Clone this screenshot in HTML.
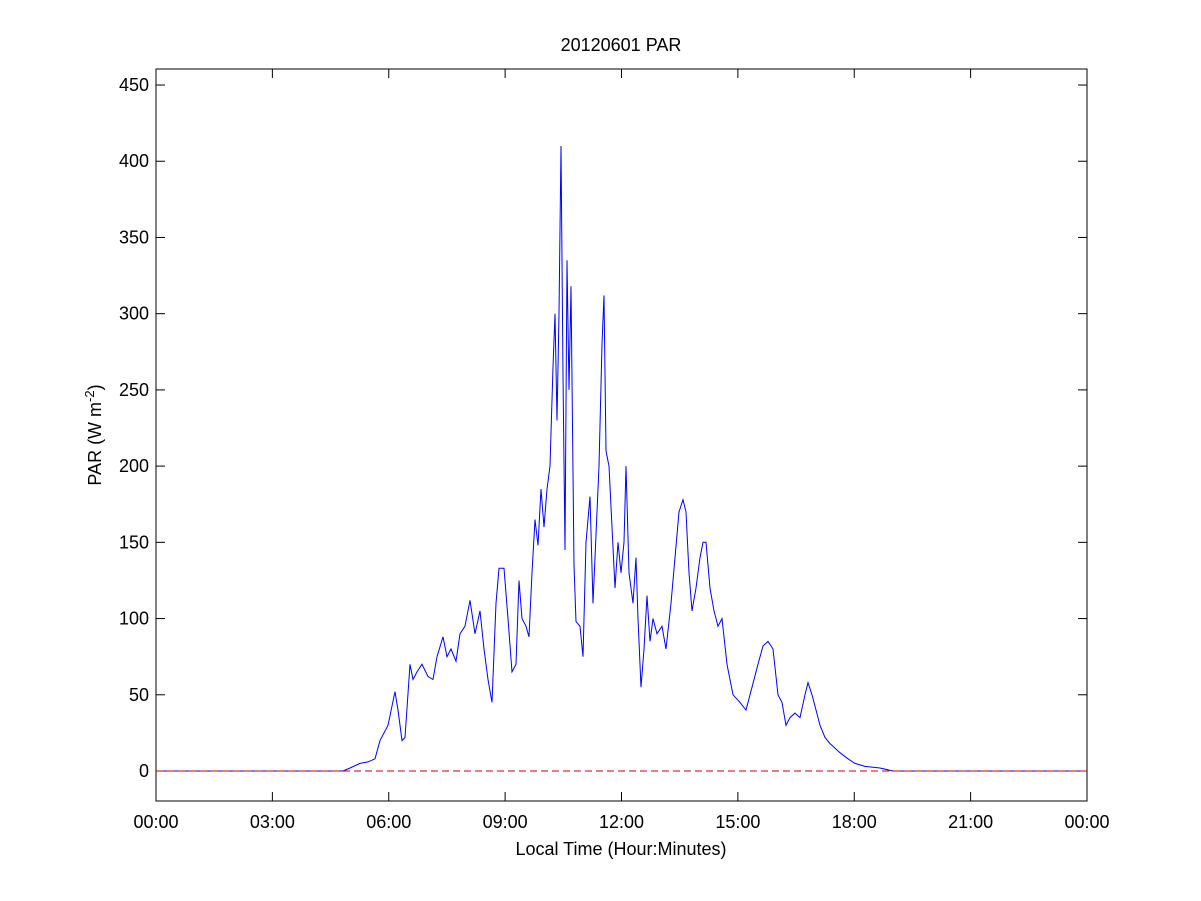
<!DOCTYPE html>
<html><head><style>body{margin:0;background:#fff}svg{display:block}text{font-family:"Liberation Sans",sans-serif;fill:#000}</style></head>
<body>
<svg id="s" width="1201" height="901" viewBox="0 0 1201 901">
<rect x="0" y="0" width="1201" height="901" fill="#fff"/>
<rect x="156" y="69" width="931" height="732" fill="#fff" stroke="#000" stroke-width="1"/>
<g id="ticks" stroke="#000" stroke-width="1"></g>
<g id="labels" font-size="18"></g>
<polyline id="pl" fill="none" stroke="#0000ff" stroke-width="1"/>
<line x1="156" y1="771" x2="1087" y2="771" stroke="#c00000" stroke-dasharray="7,4" stroke-width="1"/>
<text x="621" y="51" font-size="18" text-anchor="middle">20120601 PAR</text>
<text x="621" y="855" font-size="18" text-anchor="middle">Local Time (Hour:Minutes)</text>
<text transform="translate(101,435) rotate(-90)" font-size="18" text-anchor="middle">PAR (W m<tspan dy="-7" font-size="13">-2</tspan><tspan dy="7">)</tspan></text>
</svg>
<script>
var NS="http://www.w3.org/2000/svg",t=document.getElementById('ticks'),l=document.getElementById('labels');
function ln(a,b,c,d){var e=document.createElementNS(NS,'line');e.setAttribute('x1',a);e.setAttribute('y1',b);e.setAttribute('x2',c);e.setAttribute('y2',d);t.appendChild(e);}
function tx(x,y,s,a){var e=document.createElementNS(NS,'text');e.setAttribute('x',x);e.setAttribute('y',y);e.setAttribute('text-anchor',a);e.textContent=s;l.appendChild(e);}
var xl=["00:00","03:00","06:00","09:00","12:00","15:00","18:00","21:00","00:00"];
for(var i=0;i<9;i++){var x=156+i*116.375;ln(x,801,x,792);ln(x,69,x,78);tx(x,828,xl[i],'middle');}
for(var v=0;v<=450;v+=50){var y=771-v*1.5244;ln(156,y,165,y);ln(1087,y,1078,y);tx(149,y+6,v,'end');}
var d=[156,0,343,0,350,2,360,5,368,6,375,8,380,20,388,30,395,52,398,40,402,20,405,22,410,70,413,60,417,65,422,70,428,62,433,60,437,75,443,88,447,75,451,80,456,72,460,90,465,95,470,112,475,90,480,105,484,80,488,60,492,45,496,110,499,133,504,133,508,100,512,65,516,70,519,125,522,100,526,95,529,88,532,130,535,165,538,148,541,185,544,160,547,185,550,200,553,265,555,300,557,230,559,300,561,410,563,260,565,145,567,335,569,250,571,318,574,135,576,98,580,95,583,75,586,150,590,180,593,110,596,155,599,200,602,280,604,312,606,210,609,200,612,160,615,120,618,150,621,130,624,150,626,200,629,130,633,110,636,140,638,100,641,55,644,80,647,115,650,85,653,100,657,90,662,95,666,80,671,110,675,140,679,170,683,178,686,170,689,130,692,105,696,120,700,140,703,150,706,150,710,120,714,105,718,95,722,100,727,70,733,50,740,45,746,40,752,55,758,70,763,82,768,85,773,80,778,50,782,45,786,30,790,35,795,38,800,35,805,50,808,58,812,50,816,40,820,30,825,22,830,18,835,15,840,12,848,8,855,5,865,3,880,2,893,0,1087,0];
var p=[];for(var i=0;i<d.length;i+=2)p.push(d[i]+","+(771-d[i+1]*1.5244).toFixed(1));
document.getElementById('pl').setAttribute('points',p.join(' '));
</script>
</body></html>
